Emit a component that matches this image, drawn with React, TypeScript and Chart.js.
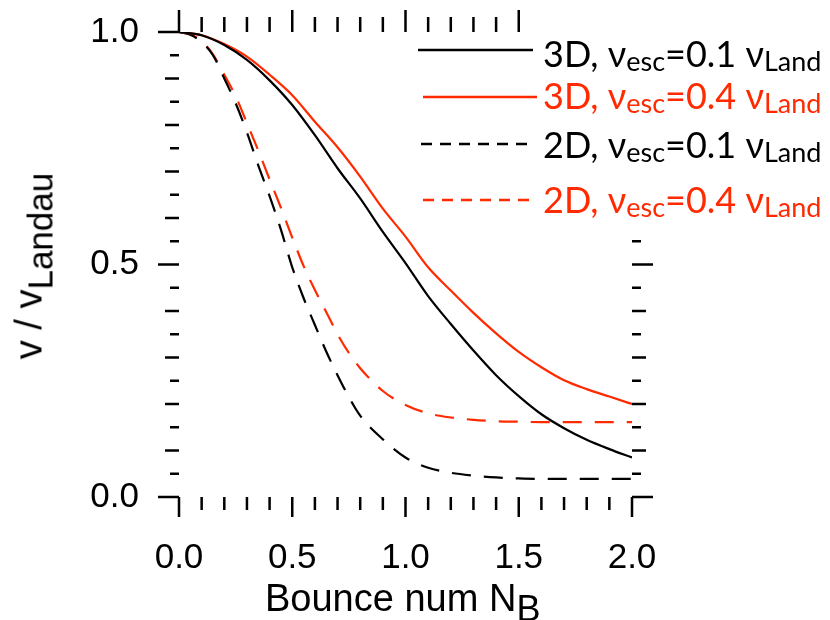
import React, { useEffect, useRef } from "react";
import { Chart, registerables } from "chart.js";

Chart.register(...registerables);

// ---- data ----
const x3D = [0, 0.1, 0.2, 0.3, 0.4, 0.5, 0.6, 0.7, 0.8, 0.9, 1.0, 1.1, 1.2, 1.3, 1.4, 1.5, 1.6, 1.7, 1.8, 1.9, 2.0];
const v3D_esc01 = [1.0, 0.993, 0.972, 0.94, 0.896, 0.843, 0.778, 0.707, 0.642, 0.57, 0.503, 0.432, 0.372, 0.315, 0.262, 0.217, 0.178, 0.148, 0.123, 0.103, 0.085];
const v3D_esc04 = [1.0, 0.993, 0.974, 0.947, 0.908, 0.864, 0.807, 0.752, 0.689, 0.62, 0.56, 0.494, 0.444, 0.396, 0.352, 0.312, 0.279, 0.251, 0.232, 0.216, 0.2];

const x2D = [0, 0.05, 0.1, 0.15, 0.2, 0.25, 0.3, 0.35, 0.4, 0.45, 0.5, 0.55, 0.6, 0.65, 0.7, 0.75, 0.8, 0.9, 1.0, 1.1, 1.2, 1.3, 1.4, 1.5, 1.6, 1.7, 1.8, 1.9, 2.0];
const v2D_esc01 = [1.0, 0.994, 0.978, 0.95, 0.9, 0.847, 0.784, 0.713, 0.647, 0.575, 0.494, 0.428, 0.37, 0.313, 0.262, 0.215, 0.175, 0.124, 0.085, 0.063, 0.052, 0.046, 0.042, 0.04, 0.039, 0.039, 0.039, 0.039, 0.039];
const v2D_esc04 = [1.0, 0.995, 0.98, 0.952, 0.908, 0.862, 0.804, 0.745, 0.683, 0.622, 0.558, 0.497, 0.445, 0.398, 0.35, 0.31, 0.277, 0.228, 0.198, 0.18, 0.171, 0.166, 0.163, 0.162, 0.161, 0.161, 0.161, 0.161, 0.161];

const xTickValues = [0, 0.5, 1.0, 1.5, 2.0];
const yTickValues = [0, 0.5, 1.0];

const RED = "#ff2a00";
const BLACK = "#000000";

const legendRows = [
  { dim: "3D", val: "0.1", color: BLACK, dash: false },
  { dim: "3D", val: "0.4", color: RED, dash: false },
  { dim: "2D", val: "0.1", color: BLACK, dash: true },
  { dim: "2D", val: "0.4", color: RED, dash: true },
];

const toPts = (xs: number[], ys: number[]) => xs.map((x, i) => ({ x, y: ys[i] }));

const idlTicks = {
  id: "idlTicks",
  afterDraw(chart: any) {
    const { ctx, chartArea: a, scales } = chart;
    const xs = scales.x;
    const ys = scales.y;
    ctx.save();
    ctx.strokeStyle = "#000";
    ctx.lineWidth = 2.5;
    ctx.lineCap = "butt";
    ctx.beginPath();
    for (let i = 0; i <= 20; i++) {
      const px = xs.getPixelForValue(i / 10);
      const major = i % 5 === 0;
      ctx.moveTo(px, a.bottom);
      ctx.lineTo(px, a.bottom + (major ? 20 : 13));
      ctx.moveTo(px, a.top);
      ctx.lineTo(px, a.top - (major ? 22 : 15));
    }
    for (let i = 0; i <= 20; i++) {
      const py = ys.getPixelForValue(i / 20);
      const len = i % 10 === 0 ? 21 : i % 2 === 0 ? 14 : 9;
      ctx.moveTo(a.left, py);
      ctx.lineTo(a.left - len, py);
      ctx.moveTo(a.right, py);
      ctx.lineTo(a.right + len, py);
    }
    ctx.stroke();
    ctx.restore();
  },
};

const tickFont = { family: "'Liberation Sans', Arial, sans-serif", size: 35 };

export default function App() {
  const ref = useRef<HTMLCanvasElement | null>(null);

  useEffect(() => {
    if (!ref.current) return;
    const line = (label: string, xs: number[], ys: number[], color: string, dashed: boolean) => ({
      label,
      data: toPts(xs, ys),
      borderColor: color,
      borderWidth: 2.2,
      borderDash: dashed ? [19, 13] : [],
      pointRadius: 0,
      cubicInterpolationMode: "monotone",
      fill: false,
    });
    const chart = new Chart(ref.current, {
      type: "line",
      data: {
        datasets: [
          line("3D, v_esc=0.1", x3D, v3D_esc01, BLACK, false),
          line("3D, v_esc=0.4", x3D, v3D_esc04, RED, false),
          line("2D, v_esc=0.1", x2D, v2D_esc01, BLACK, true),
          line("2D, v_esc=0.4", x2D, v2D_esc04, RED, true),
        ] as any,
      },
      options: {
        animation: false,
        responsive: false,
        layout: { padding: { top: 32, right: 198, left: 0, bottom: 0 } },
        plugins: {
          legend: { display: false },
          tooltip: { enabled: false },
          title: { display: false },
        },
        scales: {
          x: {
            type: "linear",
            min: 0,
            max: 2,
            grid: { display: false },
            border: { display: false },
            afterBuildTicks: (s: any) => {
              s.ticks = xTickValues.map((v) => ({ value: v }));
            },
            afterFit: (s: any) => {
              s.height = 123;
              s.paddingLeft = 0;
              s.paddingRight = 0;
            },
            ticks: {
              padding: 32,
              font: tickFont,
              color: "#000",
              maxRotation: 0,
              autoSkip: false,
              callback: (v: any) => Number(v).toFixed(1),
            },
          },
          y: {
            type: "linear",
            min: 0,
            max: 1,
            grid: { display: false },
            border: { display: false },
            afterBuildTicks: (s: any) => {
              s.ticks = yTickValues.map((v) => ({ value: v }));
            },
            afterFit: (s: any) => {
              s.width = 179;
              s.paddingTop = 0;
              s.paddingBottom = 0;
            },
            ticks: {
              padding: 32,
              font: tickFont,
              color: "#000",
              autoSkip: false,
              callback: (v: any) => Number(v).toFixed(1),
            },
          },
        },
      } as any,
      plugins: [idlTicks],
    });
    return () => chart.destroy();
  }, []);

  const titleFont = "'Liberation Sans', Arial, sans-serif";
  const legendFont = "Lato, 'Open Sans', sans-serif";
  const rowBaselines = [67, 109, 158, 213];
  const rowLines = [
    { y: 50, x1: 418, x2: 533 },
    { y: 97, x1: 423, x2: 538 },
    { y: 144, x1: 421, x2: 532 },
    { y: 200, x1: 423, x2: 538 },
  ];

  return (
    <div
      style={{
        position: "absolute",
        left: 0,
        top: 0,
        width: 830,
        height: 620,
        overflow: "hidden",
        background: "#fff",
      }}
    >
      <canvas ref={ref} width={830} height={620} style={{ display: "block" }} />

      {/* y axis title */}
      <div
        style={{
          position: "absolute",
          left: 29,
          top: 266,
          transform: "translate(-50%, -50%) rotate(-90deg)",
          fontFamily: titleFont,
          fontSize: 38,
          lineHeight: "38px",
          whiteSpace: "nowrap",
          color: "#000",
        }}
      >
        v / v
        <span style={{ fontSize: 35, position: "relative", top: 11 }}>Landau</span>
      </div>

      {/* x axis title */}
      <div
        style={{
          position: "absolute",
          left: 265,
          top: 579,
          fontFamily: titleFont,
          fontSize: 38,
          lineHeight: "38px",
          whiteSpace: "nowrap",
          color: "#000",
        }}
      >
        Bounce num N
        <span style={{ fontSize: 36, position: "relative", top: 10 }}>B</span>
      </div>

      {/* legend line box */}
      <div
        style={{ position: "absolute", left: 410, top: 36, width: 130, height: 180, background: "#fff" }}
      />
      <svg
        width={830}
        height={620}
        style={{ position: "absolute", left: 0, top: 0, pointerEvents: "none" }}
      >
        {legendRows.map((r, i) => (
          <line
            key={i}
            x1={rowLines[i].x1}
            x2={rowLines[i].x2}
            y1={rowLines[i].y}
            y2={rowLines[i].y}
            stroke={r.color}
            strokeWidth={2.5}
            strokeDasharray={r.dash ? "11 8" : undefined}
          />
        ))}
      </svg>

      {/* legend text box */}
      <div
        style={{ position: "absolute", left: 537, top: 0, width: 293, height: 228, background: "#fff" }}
      >
        {legendRows.map((r, i) => (
          <div
            key={i}
            style={{
              position: "absolute",
              left: 6,
              top: rowBaselines[i] - 32,
              fontFamily: legendFont,
              fontSize: 36,
              lineHeight: "36px",
              whiteSpace: "nowrap",
              color: r.color,
            }}
          >
            {r.dim}, ν
            <span style={{ fontSize: 27, position: "relative", top: 4 }}>esc</span>={r.val} ν
            <span style={{ fontSize: 27, position: "relative", top: 4 }}>Land</span>
          </div>
        ))}
      </div>
    </div>
  );
}
